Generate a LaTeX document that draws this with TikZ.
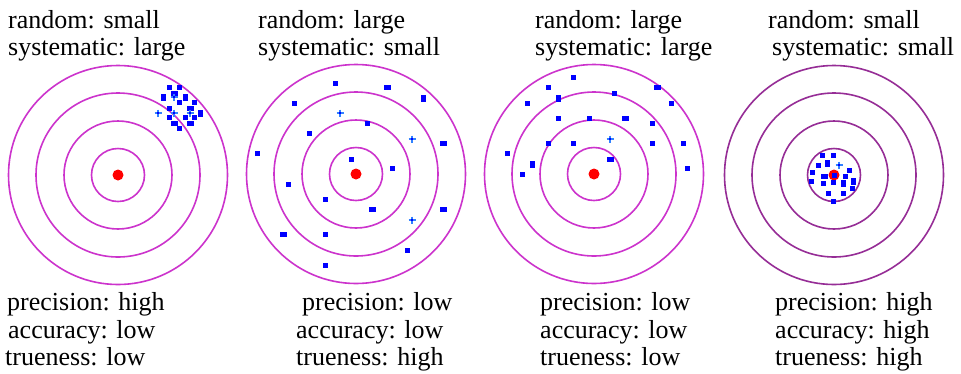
\documentclass[tikz,border=0pt]{standalone}
\usepackage{fontspec}
\setmainfont{Liberation Serif}
\definecolor{ring}{RGB}{204,51,204}
\definecolor{ringdark}{RGB}{150,45,150}
\definecolor{dotblue}{RGB}{0,0,255}
\definecolor{plusblue}{RGB}{50,130,255}
\definecolor{bull}{RGB}{255,0,0}
\tikzset{
  ringline/.style={draw=ring, line width=1.6pt},
  ringdk/.style={draw=ringdark, line width=1.6pt},
  lbl/.style={anchor=base west, inner sep=0pt, font=\fontsize{26}{27}\selectfont},
  shot/.style={fill=dotblue},
  pshot/.style={draw=plusblue, line width=1.4pt},
}
\newcommand{\mytarget}[3]{%
  \foreach \rr in {26.5,54,82,109.5} {\draw[#3] (#1,#2) circle[radius=\rr pt];}
  \fill[bull] (#1,#2) circle[radius=5.5pt];
}
\newcommand{\shotsq}[2]{\fill[shot] ({#1-2.5},{#2-2.5}) rectangle ({#1+2.5},{#2+2.5});}
\newcommand{\shotwide}[2]{\fill[shot] ({#1-3.5},{#2-2.5}) rectangle ({#1+3.5},{#2+2.5});}
\newcommand{\shottall}[2]{\fill[shot] ({#1-2.5},{#2-3.5}) rectangle ({#1+2.5},{#2+3.5});}
\newcommand{\shotplus}[2]{\draw[pshot] ({#1-3.5},#2) -- ({#1+3.5},#2) (#1,{#2-3.5}) -- (#1,{#2+3.5});
  \fill[shot] ({#1-1.2},{#2-1.2}) rectangle ({#1+1.2},{#2+1.2});}
\begin{document}
\begin{tikzpicture}[x=1pt,y=-1pt]
\useasboundingbox (0,0) rectangle (961,373);
\fill[white] (0,0) rectangle (961,373);
% targets
\mytarget{118}{175}{ringline}
\mytarget{356}{174}{ringline}
\mytarget{594}{174}{ringline}
\mytarget{834}{175}{ringdk}
% target 1 shots (random small, systematic large)
\shotsq{169}{87}\shotsq{179}{87}\shotwide{174}{93}
\shottall{163}{97}\shotplus{174}{97}\shottall{185}{97}
\shotsq{179}{102}\shotsq{194}{102}
\shotsq{169}{108}\shotwide{190}{108}
\shotplus{158}{113}\shotplus{174}{113}\shotplus{190}{113}\shottall{200}{113}
\shotsq{169}{117}\shotsq{185}{117}\shotsq{194}{117}
\shotwide{174}{123}\shotwide{190}{123}\shotsq{179}{128}
% target 2 shots
\shotsq{335}{83}\shotwide{387}{87}\shottall{423}{98}
\shotsq{294}{103}\shotplus{340}{113}\shotsq{367}{123}
\shotsq{309}{133}\shotplus{412}{139}\shotwide{443}{143}
\shotsq{257}{153}\shotsq{351}{159}\shotsq{392}{168}
\shotsq{288}{184}\shotsq{325}{199}\shotwide{372}{209}\shotwide{443}{209}
\shotplus{412}{220}\shotwide{283}{234}\shotsq{325}{234}
\shotsq{407}{250}\shotsq{325}{265}
% target 3 shots
\shotsq{573}{77}\shotsq{548}{87}\shotwide{657}{87}
\shottall{558}{98}\shotsq{614}{93}\shotsq{527}{103}\shotsq{671}{103}
\shotsq{558}{118}\shotsq{589}{118}\shotwide{625}{118}\shotsq{652}{123}
\shotplus{610}{139}\shotsq{548}{143}\shotsq{573}{143}\shotsq{652}{143}\shotsq{683}{143}
\shotsq{507}{153}\shotwide{610}{159}\shottall{532}{164}\shotsq{522}{174}\shotsq{687}{168}
% target 4 shots
\shotsq{822}{155}\shotsq{833}{155}\shottall{827}{163}\shotsq{818}{165}
\shotplus{839}{165}\shotsq{849}{170}\shotsq{812}{172}\shotwide{824}{176}
\shotsq{834}{175}\shotsq{845}{176}\shottall{853}{181}
\shotsq{823}{183}\shotsq{833}{182}\shottall{843}{183}\shotsq{811}{181}
\shotsq{852}{188}\shotsq{828}{193}\shotsq{843}{193}\shotsq{833}{201}
% labels top
\node[lbl] (t1a) at (8,28) {random: small};
\node[lbl] (t1b) at (8,55) {systematic: large};
\node[lbl] (t2a) at (258,28) {random: large};
\node[lbl] (t2b) at (258,55) {systematic: small};
\node[lbl] (t3a) at (535,28) {random: large};
\node[lbl] (t3b) at (535,55) {systematic: large};
\node[lbl] (t4a) at (768,28) {random: small};
\node[lbl] (t4b) at (772,55) {systematic: small};
% labels bottom
\node[lbl] (b1a) at (7,310) {precision: high};
\node[lbl] (b1b) at (8,338) {accuracy: low};
\node[lbl] (b1c) at (5,365) {trueness: low};
\node[lbl] (b2a) at (302,310) {precision: low};
\node[lbl] (b2b) at (296,338) {accuracy: low};
\node[lbl] (b2c) at (296,365) {trueness: high};
\node[lbl] (b3a) at (540,310) {precision: low};
\node[lbl] (b3b) at (540,338) {accuracy: low};
\node[lbl] (b3c) at (540,365) {trueness: low};
\node[lbl] (b4a) at (775,310) {precision: high};
\node[lbl] (b4b) at (775,338) {accuracy: high};
\node[lbl] (b4c) at (775,365) {trueness: high};
\end{tikzpicture}
\end{document}
